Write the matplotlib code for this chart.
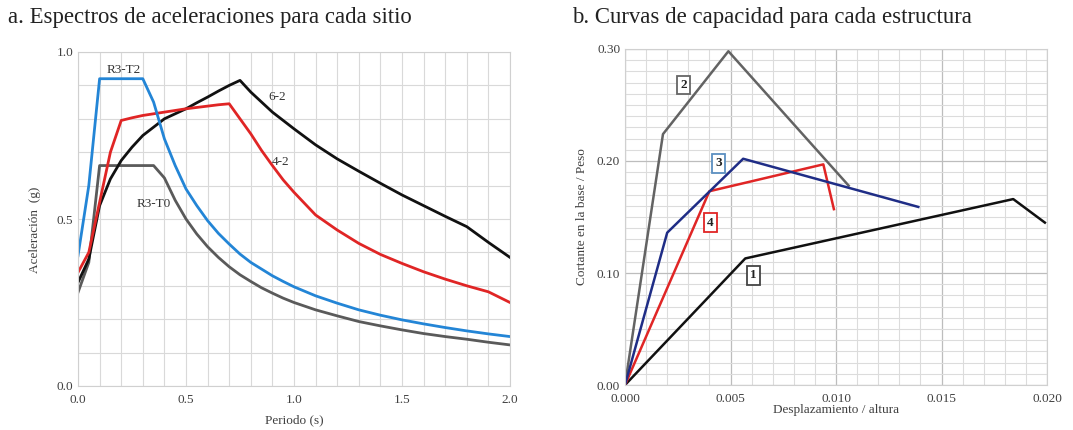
import numpy as np
import matplotlib
matplotlib.use("Agg")
import matplotlib.pyplot as plt
from matplotlib.ticker import MultipleLocator, FormatStrFormatter

plt.rcParams['font.family'] = ['Liberation Serif', 'DejaVu Serif']

# --- a. acceleration spectra (period s, acceleration g)
t_spec = [0.0, 0.05, 0.1, 0.15, 0.2, 0.25, 0.3, 0.35, 0.4, 0.45, 0.5, 0.55, 0.6, 0.65, 0.7,
          0.75, 0.8, 0.85, 0.9, 0.95, 1.0, 1.1, 1.2, 1.3, 1.4, 1.5, 1.6, 1.7, 1.8, 1.9, 2.0]
sa_r3t2 = [0.39, 0.60, 0.92, 0.92, 0.92, 0.92, 0.92, 0.85, 0.74, 0.66, 0.59, 0.54, 0.495, 0.457, 0.425,
           0.395, 0.37, 0.35, 0.33, 0.313, 0.297, 0.27, 0.248, 0.228, 0.212, 0.198, 0.186, 0.175, 0.165, 0.156, 0.148]
sa_r3t0 = [0.28, 0.37, 0.66, 0.66, 0.66, 0.66, 0.66, 0.66, 0.623, 0.556, 0.50, 0.455, 0.417, 0.385, 0.357,
           0.333, 0.313, 0.294, 0.278, 0.263, 0.25, 0.228, 0.21, 0.193, 0.18, 0.168, 0.157, 0.148, 0.14, 0.131, 0.123]
sa_42 = [0.34, 0.40, 0.55, 0.70, 0.795, 0.803, 0.81, 0.815, 0.82, 0.825, 0.83, 0.834, 0.838, 0.842, 0.845,
         0.80, 0.755, 0.705, 0.66, 0.617, 0.58, 0.512, 0.467, 0.427, 0.394, 0.367, 0.342, 0.32, 0.30, 0.282, 0.25]
sa_62 = [0.31, 0.38, 0.54, 0.62, 0.675, 0.715, 0.75, 0.775, 0.80, 0.815, 0.83, 0.848, 0.865, 0.883, 0.90,
         0.915, 0.88, 0.85, 0.82, 0.795, 0.77, 0.722, 0.68, 0.643, 0.607, 0.572, 0.54, 0.508, 0.477, 0.43, 0.385]

# --- b. capacity curves (drift ratio, base shear / weight)
d1 = [0.0, 0.0057, 0.0184, 0.0199]
v1 = [0.0, 0.113, 0.166, 0.145]
d2 = [0.0, 0.0018, 0.0049, 0.0106]
v2 = [0.0, 0.224, 0.298, 0.178]
d3 = [0.0, 0.0020, 0.0056, 0.0139]
v3 = [0.0, 0.136, 0.202, 0.159]
d4 = [0.0, 0.0040, 0.0094, 0.0099]
v4 = [0.0, 0.173, 0.197, 0.157]

c_blue, c_red, c_black, c_gray = '#2385d6', '#e02525', '#111111', '#5a5a5a'
c_navy = '#1f2d86'
txt = '#404040'

fig = plt.figure(figsize=(10.73, 4.30), dpi=100)

# ---------------- panel a
ax = fig.add_axes([78/1073, 44/430, 432/1073, 334/430])
ax.plot(t_spec, sa_r3t0, color=c_gray, lw=2)
ax.plot(t_spec, sa_62, color=c_black, lw=2)
ax.plot(t_spec, sa_42, color=c_red, lw=2)
ax.plot(t_spec, sa_r3t2, color=c_blue, lw=2)
ax.set_xlim(0, 2.0)
ax.set_ylim(0, 1.0)
ax.xaxis.set_major_locator(MultipleLocator(0.5))
ax.xaxis.set_minor_locator(MultipleLocator(0.1))
ax.yaxis.set_major_locator(MultipleLocator(0.5))
ax.yaxis.set_minor_locator(MultipleLocator(0.1))
ax.xaxis.set_major_formatter(FormatStrFormatter('%.1f'))
ax.yaxis.set_major_formatter(FormatStrFormatter('%.1f'))
ax.grid(which='both', color='#d9d9d9', lw=0.8)
ax.set_axisbelow(True)
ax.text(0.21, 0.945, 'R3-T2', fontsize=9.5, color='#333333', ha='center', va='center')
ax.text(0.92, 0.865, '6-2', fontsize=9.5, color='#333333', ha='center', va='center')
ax.text(0.94, 0.67, '4-2', fontsize=9.5, color='#333333', ha='center', va='center')
ax.text(0.35, 0.545, 'R3-T0', fontsize=9.5, color='#333333', ha='center', va='center')
ax.set_xlabel('Periodo (s)', fontsize=9.5, color=txt, labelpad=6)
ax.set_ylabel('Aceleración  (g)', fontsize=9.5, color=txt)
ax.yaxis.set_label_coords(-0.085, 0.467)

# ---------------- panel b
bx = fig.add_axes([625/1073, 45/430, 422/1073, 336/430])
bx.plot(d2, v2, color='#636363', lw=1.8)
bx.plot(d1, v1, color=c_black, lw=1.8)
bx.plot(d4, v4, color=c_red, lw=1.8)
bx.plot(d3, v3, color=c_navy, lw=1.8)
bx.set_xlim(0, 0.020)
bx.set_ylim(0, 0.30)
bx.xaxis.set_major_locator(MultipleLocator(0.005))
bx.xaxis.set_minor_locator(MultipleLocator(0.001))
bx.yaxis.set_major_locator(MultipleLocator(0.10))
bx.yaxis.set_minor_locator(MultipleLocator(0.01))
bx.xaxis.set_major_formatter(FormatStrFormatter('%.3f'))
bx.yaxis.set_major_formatter(FormatStrFormatter('%.2f'))
bx.grid(which='minor', color='#dcdcdc', lw=0.8)
bx.grid(which='major', color='#bdbdbd', lw=0.9)
bx.set_axisbelow(True)
box_labels = [('1', 0.0061, 0.098, '#444444'), ('2', 0.00277, 0.268, '#666666'),
              ('3', 0.00444, 0.198, '#5b8fc0'), ('4', 0.00405, 0.145, c_red)]
for lab, x, y, ec in box_labels:
    bx.text(x, y, lab, fontsize=9.5, fontweight='bold', color='#222222', ha='center', va='center',
            bbox=dict(boxstyle='square,pad=0.25', fc='white', ec=ec, lw=1.3))
bx.set_xlabel('Desplazamiento / altura', fontsize=9.5, color=txt, labelpad=-1)
bx.set_ylabel('Cortante en la base / Peso', fontsize=9.5, color=txt, labelpad=6)

for a in (ax, bx):
    a.tick_params(which='both', length=0, labelsize=9.5, labelcolor=txt)
    a.tick_params(axis='x', pad=6)
    for s in a.spines.values():
        s.set_color('#d0d0d0')

fig.text(8/1073, 1 - 18/430, 'a. Espectros de aceleraciones para cada sitio', fontsize=16.4,
         color='#222222', va='center', ha='left')
fig.text(572/1073, 1 - 18/430, 'b. Curvas de capacidad para cada estructura', fontsize=16.4,
         color='#222222', va='center', ha='left')

fig.savefig('out.png', dpi=100, facecolor='white')
